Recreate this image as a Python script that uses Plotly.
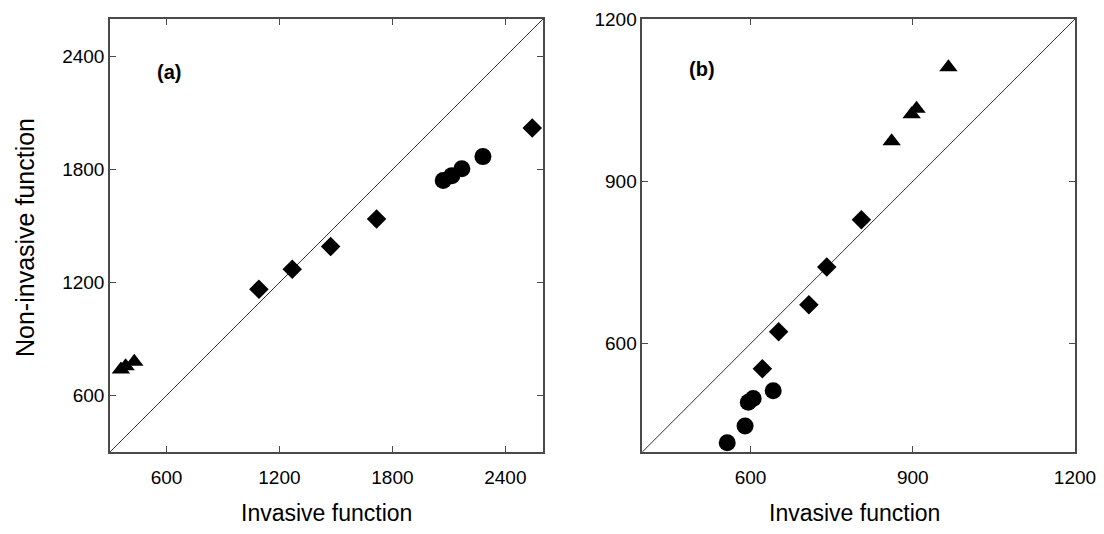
import plotly.graph_objects as go

# ---- Panel (a) data ----
a_tri_x = [358, 383, 429]
a_tri_y = [738, 756, 779]
a_dia_x = [1091, 1268, 1472, 1716, 2543]
a_dia_y = [1165, 1271, 1391, 1537, 2021]
a_cir_x = [2070, 2116, 2169, 2281]
a_cir_y = [1742, 1768, 1805, 1869]
a_range = [300, 2600]
a_ticks = [600, 1200, 1800, 2400]

# ---- Panel (b) data ----
b_tri_x = [861, 898, 907, 966]
b_tri_y = [974, 1024, 1034, 1111]
b_dia_x = [622, 652, 708, 741, 805]
b_dia_y = [554, 622, 672, 742, 829]
b_cir_x = [557, 590, 596, 605, 642]
b_cir_y = [417, 448, 492, 499, 513]
b_range = [400, 1200]
b_ticks = [600, 900, 1200]

W, H = 1104, 534
FONT = "Liberation Sans, Arial, sans-serif"
FRAME = "#4a4a4a"

fig = go.Figure()

def add_panel(xa, ya, tri_x, tri_y, dia_x, dia_y, cir_x, cir_y, rng):
    fig.add_trace(go.Scatter(x=rng, y=rng, mode="lines", xaxis=xa, yaxis=ya,
                             line=dict(color="#333333", width=1), showlegend=False,
                             hoverinfo="skip"))
    fig.add_trace(go.Scatter(x=tri_x, y=tri_y, mode="markers", xaxis=xa, yaxis=ya,
                             marker=dict(symbol="triangle-up", size=16, color="black"),
                             showlegend=False))
    fig.add_trace(go.Scatter(x=dia_x, y=dia_y, mode="markers", xaxis=xa, yaxis=ya,
                             marker=dict(symbol="diamond", size=15, color="black"),
                             showlegend=False))
    fig.add_trace(go.Scatter(x=cir_x, y=cir_y, mode="markers", xaxis=xa, yaxis=ya,
                             marker=dict(symbol="circle", size=17, color="black"),
                             showlegend=False))

add_panel("x", "y", a_tri_x, a_tri_y, a_dia_x, a_dia_y, a_cir_x, a_cir_y, a_range)
add_panel("x2", "y2", b_tri_x, b_tri_y, b_dia_x, b_dia_y, b_cir_x, b_cir_y, b_range)

ydom = [1 - 452 / H, 1 - 19 / H]
axis_common = dict(showline=True, linecolor=FRAME, linewidth=1.5, mirror="ticks",
                   ticks="inside", ticklen=6, tickwidth=1, tickcolor=FRAME,
                   showgrid=False, zeroline=False, automargin=False,
                   tickfont=dict(family=FONT, size=19, color="black"))

fig.update_layout(
    width=W, height=H,
    margin=dict(l=0, r=0, t=0, b=0, autoexpand=False),
    paper_bgcolor="white", plot_bgcolor="white",
    xaxis=dict(domain=[110 / W, 543 / W], range=a_range, tickvals=a_ticks,
               anchor="y", ticklabelstandoff=7, **axis_common),
    yaxis=dict(domain=ydom, range=a_range, tickvals=a_ticks, anchor="x", **axis_common),
    xaxis2=dict(domain=[642.3 / W, 1075 / W], range=b_range, tickvals=b_ticks,
                anchor="y2", ticklabelstandoff=7, **axis_common),
    yaxis2=dict(domain=ydom, range=b_range, tickvals=b_ticks, anchor="x2", **axis_common),
    annotations=[
        dict(text="<b>(a)</b>", x=613, y=2320, xref="x", yref="y", showarrow=False,
             xanchor="center", yanchor="middle",
             font=dict(family=FONT, size=20, color="black")),
        dict(text="<b>(b)</b>", x=510, y=1107, xref="x2", yref="y2", showarrow=False,
             xanchor="center", yanchor="middle",
             font=dict(family=FONT, size=20, color="black")),
        dict(text="Invasive function", x=326 / W, y=1 - 513 / H, xref="paper", yref="paper",
             xanchor="center", yanchor="middle", showarrow=False,
             font=dict(family=FONT, size=23, color="black")),
        dict(text="Invasive function", x=854 / W, y=1 - 513 / H, xref="paper", yref="paper",
             xanchor="center", yanchor="middle", showarrow=False,
             font=dict(family=FONT, size=23, color="black")),
        dict(text="Non-invasive function", x=25 / W, y=1 - 238 / H, xref="paper",
             yref="paper", xanchor="center", yanchor="middle", showarrow=False,
             textangle=-90, font=dict(family=FONT, size=25, color="black")),
    ],
)

fig.write_html("out.html", config={"displayModeBar": False},
               post_script="document.body.style.margin='0';document.body.style.overflow='hidden';")
